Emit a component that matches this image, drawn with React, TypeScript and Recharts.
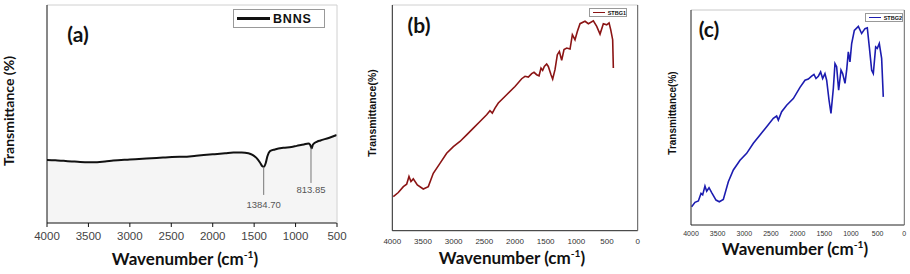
import React from "react";
import { ComposedChart, LineChart, Line, Area, XAxis, YAxis, ReferenceLine } from "recharts";

// (a) BNNS
const bnnsWavenumber = [4000, 3900, 3800, 3700, 3600, 3500, 3440, 3300, 3200, 3000, 2800, 2600, 2400, 2355, 2200, 2000, 1850, 1750, 1650, 1570, 1520, 1470, 1430, 1401, 1385, 1360, 1340, 1309, 1250, 1148, 1050, 986, 900, 846, 825, 805, 790, 745, 700, 600, 503];
const bnnsTransmittance = [2.31, 2.3, 2.28, 2.26, 2.24, 2.23, 2.23, 2.26, 2.29, 2.33, 2.37, 2.4, 2.43, 2.43, 2.47, 2.52, 2.56, 2.59, 2.59, 2.56, 2.5, 2.38, 2.22, 2.08, 2.06, 2.2, 2.45, 2.64, 2.7, 2.76, 2.79, 2.83, 2.88, 2.92, 2.88, 2.74, 2.88, 2.98, 3.03, 3.12, 3.23];

// (b) STBG1
const stbg1Wavenumber = [3984, 3902, 3820, 3766, 3728, 3696, 3658, 3592, 3495, 3413, 3332, 3223, 3114, 3005, 2897, 2788, 2679, 2571, 2462, 2408, 2370, 2326, 2272, 2136, 2000, 1891, 1837, 1783, 1728, 1690, 1647, 1608, 1576, 1549, 1522, 1484, 1457, 1413, 1386, 1348, 1310, 1277, 1239, 1201, 1157, 1103, 1065, 1022, 984, 940, 859, 804, 723, 668, 614, 560, 505, 467, 440, 408, 397];
const stbg1Transmittance = [1.28, 1.43, 1.65, 1.74, 2.03, 1.84, 1.94, 1.71, 1.56, 1.65, 2.15, 2.52, 2.9, 3.15, 3.34, 3.59, 3.84, 4.09, 4.34, 4.49, 4.4, 4.59, 4.78, 5.09, 5.4, 5.69, 5.78, 5.75, 5.88, 5.93, 5.84, 5.8, 6.09, 6.0, 6.15, 6.24, 6.15, 5.84, 5.68, 6.03, 6.59, 6.71, 6.38, 6.78, 6.84, 6.8, 7.34, 7.15, 7.46, 7.75, 7.84, 7.75, 7.86, 7.65, 7.36, 7.75, 7.71, 7.78, 7.53, 7.15, 6.09];

// (c) STBG2
const stbg2Wavenumber = [3988, 3925, 3862, 3812, 3781, 3738, 3706, 3662, 3612, 3531, 3469, 3394, 3300, 3206, 3081, 2956, 2831, 2706, 2581, 2456, 2394, 2362, 2300, 2206, 2081, 1956, 1862, 1800, 1738, 1694, 1656, 1612, 1569, 1531, 1488, 1456, 1412, 1375, 1331, 1300, 1269, 1231, 1187, 1156, 1112, 1081, 1050, 1019, 987, 937, 862, 800, 737, 694, 656, 612, 581, 537, 506, 469, 425, 394];
const stbg2Transmittance = [0.64, 0.79, 0.84, 1.1, 1.05, 1.36, 1.18, 1.3, 1.13, 0.87, 0.81, 0.89, 1.51, 1.92, 2.26, 2.5, 2.85, 3.14, 3.43, 3.72, 3.8, 3.66, 3.95, 4.18, 4.41, 4.8, 5.05, 5.09, 5.19, 5.25, 5.11, 5.19, 5.34, 5.11, 5.28, 5.05, 4.36, 3.89, 4.76, 5.63, 5.52, 4.7, 5.4, 5.28, 4.94, 5.4, 6.04, 5.69, 6.33, 6.79, 6.93, 6.68, 6.85, 6.88, 6.21, 5.4, 5.28, 6.21, 6.16, 6.33, 5.81, 4.47];

const peaksA = [
  { wn: 1384.7, top: 2.06, bottom: 1.03, label: "1384.70", offset: 6 },
  { wn: 813.85, top: 2.76, bottom: 1.47, label: "813.85", offset: 3 },
];

const xTicksA = [4000, 3500, 3000, 2500, 2000, 1500, 1000, 500];
const xTicksBC = [4000, 3500, 3000, 2500, 2000, 1500, 1000, 500, 0];
const xMinorBC = [4000, 3750, 3500, 3250, 3000, 2750, 2500, 2250, 2000, 1750, 1500, 1250, 1000, 750, 500, 250, 0];
const yTicksAB = [0, 1, 2, 3, 4, 5, 6, 7, 8];
const yTicksC = [0, 1, 2, 3, 4, 5, 6, 7];

const zip = (wn: number[], t: number[]) => wn.map((w, i) => ({ wn: w, t: t[i] }));
const bnnsData = zip(bnnsWavenumber, bnnsTransmittance);
const stbg1Data = zip(stbg1Wavenumber, stbg1Transmittance);
const stbg2Data = zip(stbg2Wavenumber, stbg2Transmittance);

const boldFont = "Lato, 'Open Sans', sans-serif";
const plainFont = "'Liberation Sans', Arial, sans-serif";

function Text({ x, y, size, children, rotate = false, weight = 700, font = boldFont, color = "#111" }: any) {
  return (
    <div
      style={{
        position: "absolute",
        left: x,
        top: y,
        transform: `translate(-50%, -50%)${rotate ? " rotate(-90deg)" : ""}`,
        fontSize: size,
        fontWeight: weight,
        fontFamily: font,
        color,
        whiteSpace: "nowrap",
        lineHeight: 1,
      }}
    >
      {children}
    </div>
  );
}

function Wavenumber({ x, y, size }: any) {
  return (
    <Text x={x} y={y} size={size}>
      Wavenumber (cm<sup style={{ fontSize: "0.6em", verticalAlign: "0.6em" }}>-1</sup>)
    </Text>
  );
}

function LegendBox({ x, y, w, h, color, label, size, lineW, lineStroke }: any) {
  return (
    <div
      style={{
        position: "absolute",
        left: x,
        top: y,
        width: w,
        height: h,
        border: "1px solid #999",
        boxSizing: "border-box",
        background: "#fff",
        display: "flex",
        alignItems: "center",
        paddingLeft: 3,
        gap: 3,
      }}
    >
      <div style={{ width: lineW, height: lineStroke, background: color }} />
      <span style={{ fontFamily: plainFont, fontWeight: 700, fontSize: size, color: "#111", letterSpacing: size > 10 ? 0.8 : 0 }}>
        {label}
      </span>
    </div>
  );
}

export default function App() {
  return (
    <div style={{ position: "absolute", left: 0, top: 0, width: 910, height: 274, background: "#fff", overflow: "hidden" }}>
      {/* Panel (a): plot box x 47..337, y 5..223 */}
      <div style={{ position: "absolute", left: 0, top: 0 }}>
        <ComposedChart width={350} height={274} data={bnnsData} margin={{ top: 4, right: 12, bottom: 31, left: 42 }}>
          <XAxis
            dataKey="wn"
            type="number"
            domain={[500, 4000]}
            reversed
            ticks={xTicksA}
            interval={0}
            height={20}
            tickSize={4}
            tickMargin={5}
            stroke="#111"
            tick={{ fontSize: 11.5, fill: "#444", fontFamily: plainFont }}
          />
          <XAxis xAxisId="top" orientation="top" type="number" domain={[500, 4000]} reversed height={1} tick={false} tickLine={false} stroke="#d0d0d0" />
          <YAxis type="number" domain={[0, 8]} ticks={yTicksAB} interval={0} width={5} tick={false} tickSize={4} stroke="#111" />
          <YAxis yAxisId="right" orientation="right" width={1} tick={false} tickLine={false} stroke="#d0d0d0" />
          <Area dataKey="t" type="monotone" fill="#f5f5f5" fillOpacity={1} stroke="none" baseValue={0} isAnimationActive={false} />
          <Line dataKey="t" type="monotone" stroke="#111" strokeWidth={2} dot={false} isAnimationActive={false} />
          {peaksA.map((p) => (
            <ReferenceLine
              key={p.label}
              segment={[
                { x: p.wn, y: p.top },
                { x: p.wn, y: p.bottom },
              ]}
              stroke="#777"
              strokeWidth={1}
              label={{ value: p.label, position: "bottom", offset: p.offset, fontSize: 9.5, fill: "#555", fontFamily: plainFont }}
            />
          ))}
        </ComposedChart>
      </div>

      {/* Panel (b): plot box x 392..638, y 5..231 */}
      <div style={{ position: "absolute", left: 360, top: 0 }}>
        <LineChart width={290} height={274} data={stbg1Data} margin={{ top: 4, right: 11.3, bottom: 23.3, left: 27.3 }}>
          <XAxis xAxisId="minor" type="number" domain={[0, 4000]} reversed ticks={xMinorBC} interval={0} mirror height={1} tick={false} axisLine={false} tickSize={3} stroke="#222" />
          <XAxis
            dataKey="wn"
            type="number"
            domain={[0, 4000]}
            reversed
            ticks={xTicksBC}
            interval={0}
            height={20}
            tickLine={false}
            tickSize={0}
            tickMargin={8}
            stroke="#222"
            tick={{ fontSize: 8, fill: "#333", fontFamily: plainFont }}
          />
          <XAxis xAxisId="top" orientation="top" type="number" domain={[0, 4000]} reversed height={1} tick={false} tickLine={false} stroke="#d0d0d0" />
          <YAxis type="number" domain={[0, 8.45]} ticks={yTicksAB} interval={0} width={5} tick={false} tickSize={3} stroke="#222" />
          <YAxis yAxisId="right" orientation="right" width={1} tick={false} tickLine={false} stroke="#555" />
          <Line dataKey="t" type="linear" stroke="#8b1414" strokeWidth={1.6} dot={false} isAnimationActive={false} />
        </LineChart>
      </div>

      {/* Panel (c): plot box x 691..904, y 10..225 */}
      <div style={{ position: "absolute", left: 650, top: 0 }}>
        <LineChart width={260} height={274} data={stbg2Data} margin={{ top: 9, right: 4.7, bottom: 29, left: 36 }}>
          <XAxis xAxisId="minor" type="number" domain={[0, 4000]} reversed ticks={xMinorBC} interval={0} mirror height={1} tick={false} axisLine={false} tickSize={3} stroke="#222" />
          <XAxis
            dataKey="wn"
            type="number"
            domain={[0, 4000]}
            reversed
            ticks={xTicksBC}
            interval={0}
            height={20}
            tickLine={false}
            tickSize={0}
            tickMargin={6}
            stroke="#222"
            tick={{ fontSize: 7, fill: "#333", fontFamily: plainFont }}
          />
          <XAxis xAxisId="top" orientation="top" type="number" domain={[0, 4000]} reversed height={1} tick={false} tickLine={false} stroke="#c8c8c8" />
          <YAxis type="number" domain={[0, 7.5]} ticks={yTicksC} interval={0} width={5} tick={false} tickSize={3} stroke="#222" />
          <YAxis yAxisId="right" orientation="right" width={1} tick={false} tickLine={false} stroke="#666" />
          <Line dataKey="t" type="linear" stroke="#1c1cb0" strokeWidth={1.6} dot={false} isAnimationActive={false} />
        </LineChart>
      </div>

      {/* Titles and labels */}
      <Text x={9} y={111} size={14} rotate>Transmittance (%)</Text>
      <Wavenumber x={185} y={258} size={17} />
      <Text x={78} y={33} size={21}>(a)</Text>
      <LegendBox x={233} y={9} w={92} h={19} color="#111" label="BNNS" size={12.5} lineW={33} lineStroke={2.5} />

      <Text x={372} y={113} size={10.5} rotate font={plainFont}>Transmittance(%)</Text>
      <Wavenumber x={512} y={257} size={17} />
      <Text x={419} y={24} size={21}>(b)</Text>
      <LegendBox x={589} y={8} w={38} h={9} color="#8b1414" label="STBG1" size={5.5} lineW={14} lineStroke={1.5} />

      <Text x={673} y={113} size={10} rotate font={plainFont}>Transmittance(%)</Text>
      <Wavenumber x={795} y={248} size={17} />
      <Text x={709} y={28} size={21}>(c)</Text>
      <LegendBox x={865} y={13} w={38} h={9} color="#1c1cb0" label="STBG2" size={5.5} lineW={14} lineStroke={1.5} />
    </div>
  );
}
